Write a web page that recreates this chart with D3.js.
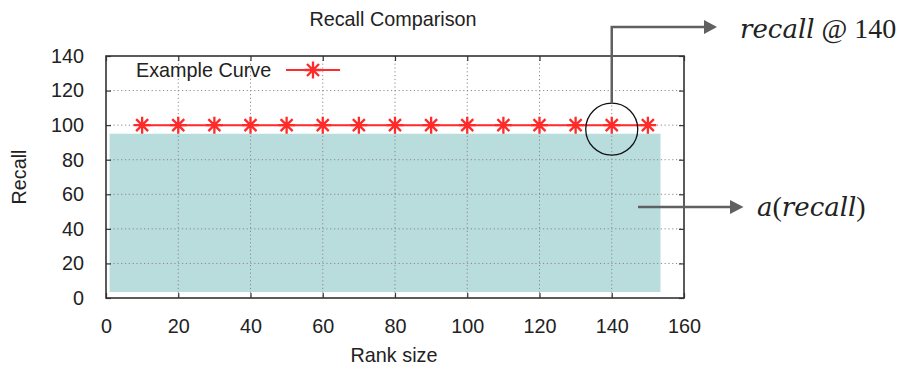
<!DOCTYPE html>
<html>
<head>
<meta charset="utf-8">
<script src="https://cdn.jsdelivr.net/npm/d3@7/dist/d3.min.js"></script>
<style>
  html, body { margin: 0; padding: 0; background: #fff; }
  svg { display: block; }
  text { font-family: "Liberation Sans", Arial, sans-serif; fill: #222; }
</style>
</head>
<body>
<svg id="chart" width="898" height="365"></svg>
<script>
// Recall curve samples
const rankSizes = [10, 20, 30, 40, 50, 60, 70, 80, 90, 100, 110, 120, 130, 140, 150];
const recallValues = [100, 100, 100, 100, 100, 100, 100, 100, 100, 100, 100, 100, 100, 100, 100];

// Shaded region under the curve: a(recall)
const areaRanks = [1, 153.5];
const areaUpper = [95, 95];
const areaLower = [3.5, 3.5];

// Axis ticks
const xTicks = [0, 20, 40, 60, 80, 100, 120, 140, 160];
const yTicks = [0, 20, 40, 60, 80, 100, 120, 140];

const seriesName = "Example Curve";
const highlightRank = 140;

const svg = d3.select("#chart");
const plot = { left: 106, right: 684, top: 56, bottom: 298 };
const fontSize = "19.8px";

const x = d3.scaleLinear().domain([0, 160]).range([plot.left, plot.right]);
const y = d3.scaleLinear().domain([0, 140]).range([plot.bottom, plot.top]);

// Title
svg.append("text")
  .attr("x", 393).attr("y", 25.5)
  .attr("text-anchor", "middle")
  .style("font-size", fontSize)
  .text("Recall Comparison");

// Area under the curve
const area = d3.area()
  .x(d => x(d[0]))
  .y0(d => y(d[2]))
  .y1(d => y(d[1]));
svg.append("path")
  .datum(areaRanks.map((r, i) => [r, areaUpper[i], areaLower[i]]))
  .attr("d", area)
  .attr("fill", "#b9dcdc");

// Dotted grid
const grid = svg.append("g")
  .attr("stroke", "#8a8a8a")
  .attr("stroke-width", 1)
  .attr("stroke-dasharray", "1.2,2.6");
grid.selectAll("line.gx")
  .data(xTicks.slice(1, -1))
  .join("line")
  .attr("x1", d => x(d)).attr("x2", d => x(d))
  .attr("y1", plot.top).attr("y2", plot.bottom);
grid.selectAll("line.gy")
  .data(yTicks.slice(1, -1))
  .join("line")
  .attr("x1", plot.left).attr("x2", plot.right)
  .attr("y1", d => y(d)).attr("y2", d => y(d));

// Axes with inward ticks, mirrored on top and right
const tickLen = 5;
const axisColor = "#333";
function styleAxis(g) {
  g.select(".domain").remove();
  g.selectAll(".tick line").attr("stroke", axisColor).attr("stroke-width", 1.2);
  g.selectAll(".tick text")
    .style("font-family", "'Liberation Sans', Arial, sans-serif")
    .style("font-size", fontSize)
    .attr("fill", "#222");
}
svg.append("g")
  .attr("transform", `translate(0,${plot.bottom})`)
  .call(d3.axisBottom(x).tickValues(xTicks).tickSize(-tickLen).tickPadding(21))
  .call(styleAxis);
svg.append("g")
  .attr("transform", `translate(${plot.left},0)`)
  .call(d3.axisLeft(y).tickValues(yTicks).tickSize(-tickLen).tickPadding(22))
  .call(styleAxis);
svg.append("g")
  .attr("transform", `translate(0,${plot.top})`)
  .call(d3.axisTop(x).tickValues(xTicks).tickSize(-tickLen).tickFormat(""))
  .call(styleAxis);
svg.append("g")
  .attr("transform", `translate(${plot.right},0)`)
  .call(d3.axisRight(y).tickValues(yTicks).tickSize(-tickLen).tickFormat(""))
  .call(styleAxis);

// Plot frame
svg.append("rect")
  .attr("x", plot.left).attr("y", plot.top)
  .attr("width", plot.right - plot.left).attr("height", plot.bottom - plot.top)
  .attr("fill", "none").attr("stroke", axisColor).attr("stroke-width", 1.6);

// Axis titles
svg.append("text")
  .attr("x", 394).attr("y", 361.5)
  .attr("text-anchor", "middle")
  .style("font-size", fontSize)
  .text("Rank size");
svg.append("text")
  .attr("transform", "translate(26,177) rotate(-90)")
  .attr("text-anchor", "middle")
  .style("font-size", fontSize)
  .text("Recall");

// Recall series: line with asterisk markers
const red = "#ff2a2a";
const line = d3.line().x(d => x(d[0])).y(d => y(d[1]));
const pts = rankSizes.map((r, i) => [r, recallValues[i]]);
svg.append("path")
  .datum(pts)
  .attr("d", line)
  .attr("fill", "none")
  .attr("stroke", red)
  .attr("stroke-width", 2);

function star(g, cx, cy, r) {
  const d = r * Math.SQRT1_2;
  const p = `M${cx - r},${cy}L${cx + r},${cy}M${cx},${cy - r}L${cx},${cy + r}` +
            `M${cx - d},${cy - d}L${cx + d},${cy + d}M${cx - d},${cy + d}L${cx + d},${cy - d}`;
  g.append("path").attr("d", p).attr("stroke", red).attr("stroke-width", 2.3).attr("fill", "none");
}
const markers = svg.append("g");
pts.forEach(p => star(markers, x(p[0]), y(p[1]), 8.5));

// Legend
svg.append("text")
  .attr("x", 136).attr("y", 76.5)
  .style("font-size", fontSize)
  .text(seriesName);
svg.append("line")
  .attr("x1", 286).attr("x2", 340).attr("y1", 70).attr("y2", 70)
  .attr("stroke", red).attr("stroke-width", 2);
star(svg, 313, 70, 8.5);

// Annotation: recall at a fixed rank
const ann = "#606060";
const cx = x(highlightRank), cy = y(100) + 4, cr = 26;
svg.append("circle")
  .attr("cx", cx).attr("cy", cy).attr("r", cr)
  .attr("fill", "none").attr("stroke", "#111").attr("stroke-width", 1.3);
svg.append("path")
  .attr("d", `M${cx},${cy - cr}V27H707`)
  .attr("fill", "none").attr("stroke", ann).attr("stroke-width", 2.5);
svg.append("path")
  .attr("d", "M704,20L717,27L704,34Z")
  .attr("fill", ann);

const t1 = svg.append("text")
  .attr("x", 740).attr("y", 38)
  .style("font-family", "'DejaVu Serif', serif")
  .style("font-size", "26px")
  .attr("fill", "#111");
t1.append("tspan").style("font-style", "italic").text("recall");
t1.append("tspan")
  .style("font-family", "'Liberation Serif', serif")
  .style("font-size", "28px")
  .text(" @ " + highlightRank);

// Annotation: area under the curve
svg.append("path")
  .attr("d", "M638,207H732")
  .attr("fill", "none").attr("stroke", ann).attr("stroke-width", 2.5);
svg.append("path")
  .attr("d", "M730,200L743.5,207L730,214Z")
  .attr("fill", ann);

const t2 = svg.append("text")
  .attr("x", 757).attr("y", 216)
  .style("font-family", "'DejaVu Serif', serif")
  .style("font-size", "26px")
  .attr("fill", "#111");
t2.append("tspan").style("font-style", "italic").text("a");
t2.append("tspan").style("font-family", "'Liberation Serif', serif").style("font-size", "28px").text("(");
t2.append("tspan").style("font-style", "italic").text("recall");
t2.append("tspan").style("font-family", "'Liberation Serif', serif").style("font-size", "28px").text(")");
</script>
</body>
</html>
